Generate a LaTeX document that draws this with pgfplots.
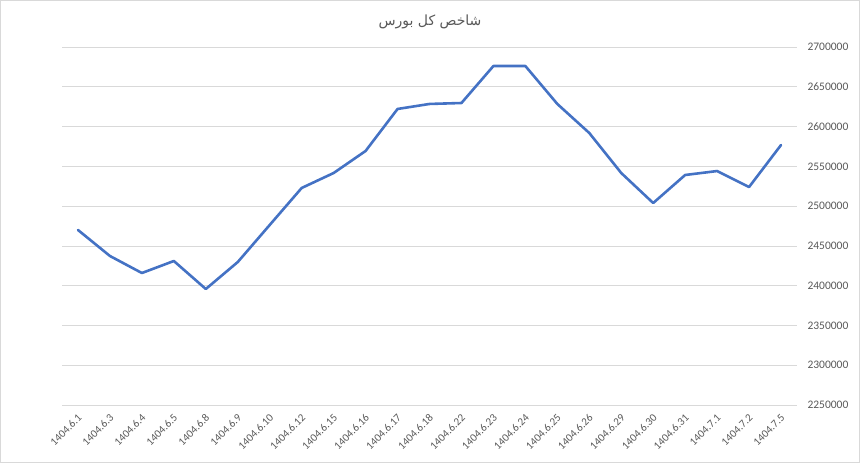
\documentclass[border=0pt]{standalone}
\usepackage{fontspec}
\setmainfont{Carlito}
\newfontfamily\arabicfont[Script=Arabic]{DejaVu Sans}
\TeXXeTstate=1
\usepackage{pgfplots}
\pgfplotsset{compat=1.18}
\definecolor{excelblue}{HTML}{4472C4}
\definecolor{labelgray}{HTML}{595959}
\definecolor{gridgray}{HTML}{D9D9D9}

\begin{document}
\begin{tikzpicture}
\useasboundingbox (0pt,0pt) rectangle (860pt,463pt);
\draw[gridgray] (0.5pt,0.5pt) rectangle (859.5pt,462.5pt);
\node[font=\arabicfont\fontsize{14}{16}\selectfont, text=labelgray] at (430pt,441pt) {\beginR شاخص کل بورس\endR};
\begin{axis}[
  at={(62pt,58pt)}, anchor=south west,
  scale only axis, width=735pt, height=358pt,
  xmin=-0.5, xmax=22.5,
  ymin=2250000, ymax=2700000,
  ytick={2250000,2300000,...,2700000},
  xtick={0,...,22},
  xticklabels={1404.6.1,1404.6.3,1404.6.4,1404.6.5,1404.6.8,1404.6.9,1404.6.10,1404.6.12,1404.6.15,1404.6.16,1404.6.17,1404.6.18,1404.6.22,1404.6.23,1404.6.24,1404.6.25,1404.6.26,1404.6.29,1404.6.30,1404.6.31,1404.7.1,1404.7.2,1404.7.5},
  axis x line*=bottom, axis y line*=right,
  x axis line style={gridgray, line width=0.75pt, -},
  y axis line style={draw=none},
  ymajorgrids, grid style={gridgray, line width=0.75pt},
  major tick length=0pt,
  scaled y ticks=false,
  /pgf/number format/assume math mode=true,
  yticklabel style={/pgf/number format/fixed, /pgf/number format/1000 sep={},
    font=\fontsize{11.5}{13}\selectfont, text=labelgray, anchor=west, xshift=7pt},
  xticklabel style={rotate=45, anchor=east, font=\fontsize{11}{13}\selectfont,
    text=labelgray, yshift=-9pt, xshift=-3pt},
  clip=false,
]
\addplot[color=excelblue, line width=2.6pt, line join=round, line cap=round] coordinates {
  (0,2470000) (1,2437300) (2,2415900) (3,2431000) (4,2395800) (5,2429700)
  (6,2476300) (7,2522800) (8,2541600) (9,2569300) (10,2622100) (11,2628400)
  (12,2629600) (13,2676100) (14,2676100) (15,2628400) (16,2591900) (17,2541600)
  (18,2503900) (19,2539100) (20,2544100) (21,2524000) (22,2576800)
};
\end{axis}
\end{tikzpicture}
\end{document}
